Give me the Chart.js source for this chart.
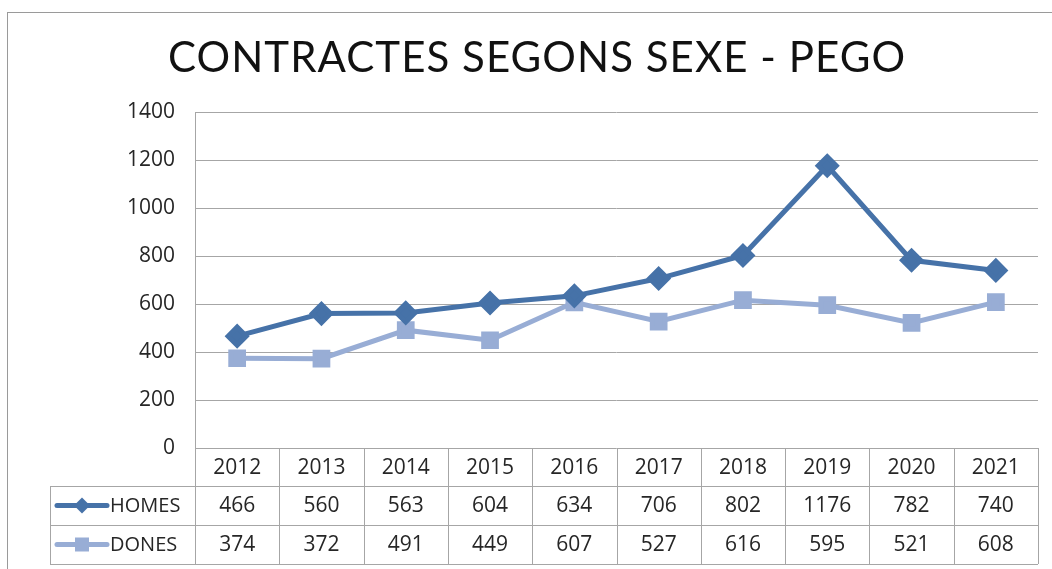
<!DOCTYPE html>
<html lang="ca">
<head>
  <meta charset="UTF-8">
  <title>Contractes segons sexe - Pego</title>
  <script src="https://cdn.jsdelivr.net/npm/chart.js"></script>
  <style>
    html, body { margin: 0; padding: 0; background: #fff; }
    .chart-container { position: relative; width: 1052px; height: 569px; }
  </style>
</head>
<body>
  <div class="chart-container">
    <canvas id="contractesChart"></canvas>
  </div>

  <script>
    const years = ['2012', '2013', '2014', '2015', '2016', '2017', '2018', '2019', '2020', '2021'];
    const homes = [466, 560, 563, 604, 634, 706, 802, 1176, 782, 740];
    const dones = [374, 372, 491, 449, 607, 527, 616, 595, 521, 608];
    const yTicks = [0, 200, 400, 600, 800, 1000, 1200, 1400];

    const colorHomes = '#4672a8';
    const colorDones = '#98add5';
    const gridColor = '#a6a6a6';
    const textFont = "'Open Sans', 'Liberation Sans', sans-serif";
    const textColor = '#262626';

    // title, outer frame and the data table under the x axis
    const tablePlugin = {
      id: 'dataTable',
      afterDraw(chart) {
        const ctx = chart.ctx;
        const area = chart.chartArea;
        const x = chart.scales.x;
        const n = years.length;
        const colW = (area.right - area.left) / n;
        const rows = [area.bottom, 486, 525, 564];
        const legendLeft = 50;

        ctx.save();
        // outer frame
        ctx.strokeStyle = '#9a9a9a';
        ctx.lineWidth = 1;
        ctx.strokeRect(7.5, 12.5, 1060, 570);

        // title, fitted to the reference width
        const title = 'CONTRACTES SEGONS SEXE - PEGO';
        ctx.fillStyle = '#111';
        ctx.font = "400 42px 'Lato', 'Open Sans', sans-serif";
        ctx.textAlign = 'left';
        ctx.textBaseline = 'middle';
        const w0 = ctx.measureText(title).width;
        const spacing = (737 - w0) / (title.length - 1);
        ctx.letterSpacing = spacing.toFixed(2) + 'px';
        ctx.fillText(title, 168, 58);
        ctx.letterSpacing = '0px';

        // table lines
        ctx.strokeStyle = gridColor;
        ctx.lineWidth = 1;
        ctx.beginPath();
        for (let i = 0; i <= n; i++) {
          const px = Math.round(area.left + i * colW) + 0.5;
          ctx.moveTo(px, i === 0 ? area.top : area.bottom);
          ctx.lineTo(px, rows[3]);
        }
        ctx.moveTo(legendLeft + 0.5, rows[1]);
        ctx.lineTo(legendLeft + 0.5, rows[3]);
        for (let r = 1; r < rows.length; r++) {
          ctx.moveTo(legendLeft, rows[r] + 0.5);
          ctx.lineTo(area.right, rows[r] + 0.5);
        }
        ctx.stroke();

        // cell texts
        ctx.fillStyle = textColor;
        ctx.font = '21px ' + textFont;
        ctx.textAlign = 'center';
        years.forEach((yr, i) => {
          const cx = x.getPixelForValue(i);
          ctx.fillText(yr, cx, (rows[0] + rows[1]) / 2 + 1);
          ctx.fillText(String(homes[i]), cx, (rows[1] + rows[2]) / 2 + 1);
          ctx.fillText(String(dones[i]), cx, (rows[2] + rows[3]) / 2 + 1);
        });

        // legend keys
        const series = [
          { label: 'HOMES', color: colorHomes, shape: 'diamond', row: 1 },
          { label: 'DONES', color: colorDones, shape: 'square', row: 2 }
        ];
        series.forEach(s => {
          const cy = (rows[s.row] + rows[s.row + 1]) / 2;
          ctx.strokeStyle = s.color;
          ctx.lineWidth = 5;
          ctx.lineCap = 'round';
          ctx.beginPath();
          ctx.moveTo(57, cy);
          ctx.lineTo(107, cy);
          ctx.stroke();
          ctx.fillStyle = s.color;
          ctx.beginPath();
          if (s.shape === 'diamond') {
            ctx.moveTo(82, cy - 8); ctx.lineTo(90, cy); ctx.lineTo(82, cy + 8); ctx.lineTo(74, cy);
          } else {
            ctx.rect(75, cy - 7, 14, 14);
          }
          ctx.fill();
          ctx.fillStyle = textColor;
          ctx.textAlign = 'left';
          ctx.font = '20px ' + textFont;
          ctx.fillText(s.label, 110, cy + 1);
        });
        ctx.restore();
      }
    };

    const ctx = document.getElementById('contractesChart').getContext('2d');
    const contractesChart = new Chart(ctx, {
      type: 'line',
      data: {
        labels: years,
        datasets: [
          {
            label: 'HOMES',
            data: homes,
            borderColor: colorHomes,
            backgroundColor: colorHomes,
            borderWidth: 5,
            pointStyle: 'rectRot',
            pointRadius: 9,
            pointHoverRadius: 9,
            tension: 0
          },
          {
            label: 'DONES',
            data: dones,
            borderColor: colorDones,
            backgroundColor: colorDones,
            borderWidth: 5,
            pointStyle: 'rect',
            pointRadius: 9,
            pointHoverRadius: 9,
            tension: 0
          }
        ]
      },
      options: {
        responsive: true,
        maintainAspectRatio: false,
        animation: false,
        layout: {
          padding: { top: 112, right: 13, bottom: 121, left: 0 }
        },
        plugins: {
          legend: { display: false },
          title: { display: false },
          tooltip: { enabled: false }
        },
        scales: {
          x: {
            display: false,
            offset: true
          },
          y: {
            min: 0,
            max: 1400,
            afterBuildTicks: (scale) => { scale.ticks = yTicks.map(v => ({ value: v })); },
            afterFit: (scale) => { scale.width = 195; },
            border: { display: false },
            grid: {
              color: gridColor,
              lineWidth: 1,
              drawTicks: false
            },
            ticks: {
              padding: 20,
              color: textColor,
              font: { family: textFont, size: 21 },
              callback: (v) => String(v)
            }
          }
        }
      },
      plugins: [tablePlugin]
    });
  </script>
</body>
</html>
